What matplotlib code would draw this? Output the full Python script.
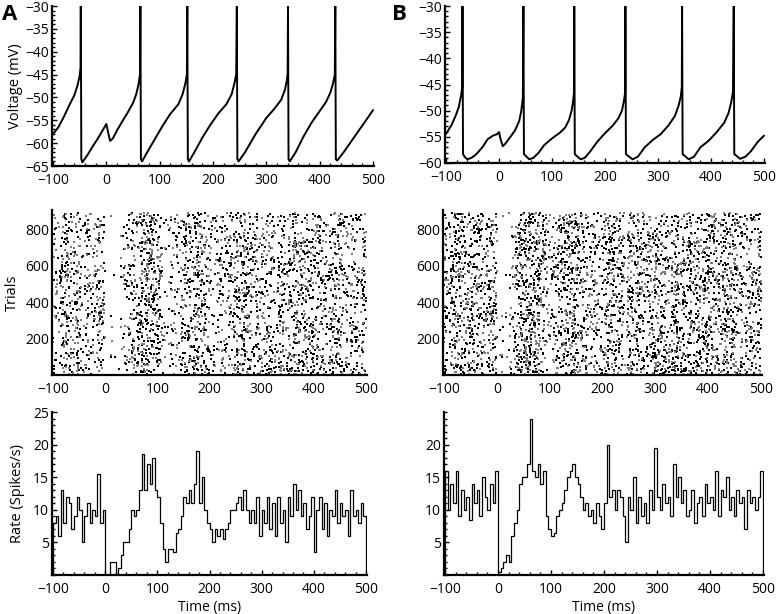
import matplotlib
matplotlib.use('Agg')
import matplotlib.pyplot as plt
import numpy as np
from matplotlib.ticker import MultipleLocator

plt.rcParams['font.family'] = ['Open Sans', 'DejaVu Sans']

# ---- membrane voltage traces (ms, mV), vertices ----
volt_a_t = [-100, -90, -80, -70, -60, -54, -50, -48.5, -48, -47, -45, -35, -25, -15, -5, 0,
            3, 7, 12, 20, 30, 40, 50, 56, 60, 63, 63.8, 64.8, 67, 75, 90, 105, 120, 135,
            143, 148, 151, 151.8, 152.8, 155, 165, 180, 195, 210, 225, 235, 240, 243.5,
            244.7, 245.7, 248, 260, 280, 300, 315, 328, 335, 338.5, 340, 340.7, 341.7,
            344, 355, 370, 385, 400, 412, 420, 425, 428.5, 429.4, 430.4, 433, 445, 460,
            475, 490, 500]
volt_a_v = [-58, -56.5, -54.3, -51.8, -49.5, -47.3, -45.2, -43.5, -30, -63.5, -64.2, -62.5,
            -60.6, -58.8, -56.8, -55.8, -57.5, -59.5, -59, -57.2, -55.2, -53.3, -51.2, -49.3,
            -47.3, -45, -30, -63.5, -64, -62.3, -59.3, -56.3, -53.6, -51.5, -49.3, -47,
            -45, -30, -63.5, -64, -62, -58.8, -56, -53.5, -51.5, -49.3, -47, -45, -30,
            -63.5, -64, -62, -58, -54.5, -52.5, -50.5, -48.3, -46.3, -44.8, -30, -63.5,
            -64, -62, -58.5, -55.5, -53, -51, -49, -47, -45, -30, -63.5, -63.8, -62,
            -59.5, -57, -54.5, -52.8]

volt_b_t = [-100, -90, -82, -76, -71.5, -69.5, -69, -68, -65, -60, -52, -45, -40, -30, -22,
            -12, -4, 0, 3, 7, 12, 20, 30, 38, 42, 45, 46, 47, 50, 57, 65, 75, 85, 100, 115,
            125, 132, 137, 140, 141.5, 142, 143, 146, 154, 162, 172, 185, 200, 215, 225,
            232, 236, 238, 238.5, 239.5, 243, 252, 262, 275, 290, 305, 320, 332, 339, 343,
            345, 345.5, 346.5, 350, 358, 368, 380, 395, 410, 425, 433, 438, 441.5, 443,
            444, 448, 455, 465, 475, 488, 500]
volt_b_v = [-54.4, -52.8, -51, -49.3, -47, -45.5, -30, -58.3, -58.8, -59.3, -59, -58.5, -58,
            -56.8, -55.5, -54.8, -54.5, -54.1, -55.5, -56.8, -56.3, -55.2, -53.8, -52, -50,
            -47.5, -30, -58.3, -58.6, -59.3, -59, -58, -56.6, -55.3, -54.2, -53.2, -51.8,
            -50, -48, -46.5, -30, -58.3, -58.6, -59.3, -59, -57.8, -56, -54.3, -52.8, -51.5,
            -50, -48, -46.5, -30, -58.3, -58.6, -59.3, -58.8, -57, -55.6, -54.5, -52.8, -51,
            -49, -47.3, -45.5, -30, -58.3, -58.6, -59.3, -58.8, -57, -55.8, -54.2, -52.3,
            -50.5, -48.5, -46.5, -30, -58.3, -58.6, -59.2, -58.8, -57.8, -56, -54.8]

# ---- firing rate histograms, 5 ms bins from -100 ms (spikes/s) ----
rate_edges = np.arange(-100, 505, 5)
rate_a = [8, 9, 6, 13, 8, 12, 11, 7, 9, 12, 10, 5, 9, 11, 8, 10, 9, 15.5, 8, 10,
          0, 0, 2, 2, 0, 1, 3, 5, 5, 7, 10, 9, 10, 13, 18.5, 13, 17, 14, 18, 13,
          12, 8, 4, 2, 4, 4, 3.5, 6.5, 7, 9, 12, 11, 13, 11, 14, 19, 11, 15, 10, 8,
          7, 5, 7, 6, 7, 5.5, 7, 8, 10, 10, 11, 12, 10, 13, 10, 8, 10, 8, 12, 6,
          10, 8, 12, 7, 11, 6, 12, 8, 10, 5, 12, 9, 14, 10, 13, 9, 11, 7, 9, 12,
          3.5, 10, 12, 7, 11, 6, 10, 9, 13, 8, 11, 9, 10, 6, 13, 9, 10, 8, 11, 9]
rate_b = [16, 10, 14, 11, 16, 9, 13, 10, 12, 8.5, 14, 11, 13, 9, 15, 12, 10, 14, 11, 16,
          0.5, 1, 2, 3, 2, 6, 8, 10, 14, 15, 15, 17, 24, 16, 15, 17, 14, 16, 9, 7,
          6, 6.5, 9, 10, 11, 13, 15, 16, 17, 15, 14, 12, 10, 11, 9, 10, 8, 11, 9, 7,
          11, 20, 12, 13, 10, 13, 12, 9, 5, 12, 10, 15, 8, 12, 9, 11, 8, 13, 10, 19.5,
          12, 10, 14, 11, 12, 9, 17, 12, 15, 11, 13, 9, 10, 13, 8, 11, 12, 9, 14, 11,
          12, 10, 16, 9, 13, 12, 15, 10, 12, 9, 13, 11, 12, 7, 13, 11, 12, 10, 12, 16]

n_trials = 890
shown_fraction = 0.65   # share of spikes drawn as dots in the raster


def px_axes(l, t, r, b):
    return fig.add_axes([l / 777, 1 - b / 614, (r - l) / 777, (b - t) / 614])


def style(ax, ticks=True):
    for s in ['top', 'right']:
        ax.spines[s].set_visible(False)
    for s in ['left', 'bottom']:
        ax.spines[s].set_linewidth(1.6)
    ax.tick_params(which='both', direction='in', labelsize=10, width=1)
    ax.tick_params(axis='y', pad=2)
    ax.tick_params(axis='x', pad=5)
    ax.tick_params(which='major', length=3.5 if ticks else 0)
    ax.tick_params(which='minor', length=2 if ticks else 0)
    ax.set_xlim(-102, 502)
    ax.xaxis.set_major_locator(MultipleLocator(100))
    if ticks:
        ax.xaxis.set_minor_locator(MultipleLocator(20))


def raster(ax, rate):
    # dot positions drawn from the rate histogram read above
    rng = np.random.default_rng(3)
    r = np.repeat(np.asarray(rate, float), 5) * shown_fraction
    tt = np.arange(-100, 500) + 0.5
    hits = rng.random((n_trials, tt.size)) < r / 1000.0
    trial_idx, time_idx = np.nonzero(hits)
    grey = rng.random(trial_idx.size) < 0.4
    ax.scatter(tt[time_idx][~grey], trial_idx[~grey] + 1, s=0.6, c='black', marker='s', lw=0)
    ax.scatter(tt[time_idx][grey], trial_idx[grey] + 1, s=0.6, c='#7a7a7a', marker='s', lw=0)
    ax.set_ylim(0, 905)
    ax.set_yticks([200, 400, 600, 800])


fig = plt.figure(figsize=(7.77, 6.14), dpi=100)

# column A
ax = px_axes(52, 6, 374, 166)
ax.plot(volt_a_t, volt_a_v, color='black', lw=1.4)
style(ax)
ax.set_ylim(-65, -30)
ax.yaxis.set_major_locator(MultipleLocator(5))
ax.yaxis.set_minor_locator(MultipleLocator(1))
ax.set_ylabel('Voltage (mV)', fontsize=10.5, labelpad=2)

ax = px_axes(52, 210, 367, 375)
raster(ax, rate_a)
style(ax, ticks=False)
ax.set_ylabel('Trials', fontsize=10.5, labelpad=4)

ax = px_axes(52, 412, 367, 575)
ax.stairs(rate_a, rate_edges, color='black', lw=0.9)
style(ax)
ax.set_ylim(0, 25)
ax.set_yticks([5, 10, 15, 20, 25])
ax.yaxis.set_minor_locator(MultipleLocator(1))
ax.set_ylabel('Rate (Spikes/s)', fontsize=10.5, labelpad=6)
ax.set_xlabel('Time (ms)', fontsize=10, labelpad=2)

# column B
ax = px_axes(445, 6, 765, 163)
ax.plot(volt_b_t, volt_b_v, color='black', lw=1.4)
style(ax)
ax.set_ylim(-60, -30)
ax.yaxis.set_major_locator(MultipleLocator(5))
ax.yaxis.set_minor_locator(MultipleLocator(1))

ax = px_axes(443, 210, 762, 375)
raster(ax, rate_b)
style(ax, ticks=False)

ax = px_axes(444, 412, 764, 575)
ax.stairs(rate_b, rate_edges, color='black', lw=0.9)
style(ax)
ax.set_ylim(0, 25)
ax.set_yticks([5, 10, 15, 20])
ax.yaxis.set_minor_locator(MultipleLocator(1))
ax.set_xlabel('Time (ms)', fontsize=10, labelpad=2)

fig.text(2 / 777, 1 - 14 / 614, 'A', fontsize=16, fontweight='bold', va='center')
fig.text(392 / 777, 1 - 14 / 614, 'B', fontsize=16, fontweight='bold', va='center')

fig.savefig('out.png', dpi=100)
